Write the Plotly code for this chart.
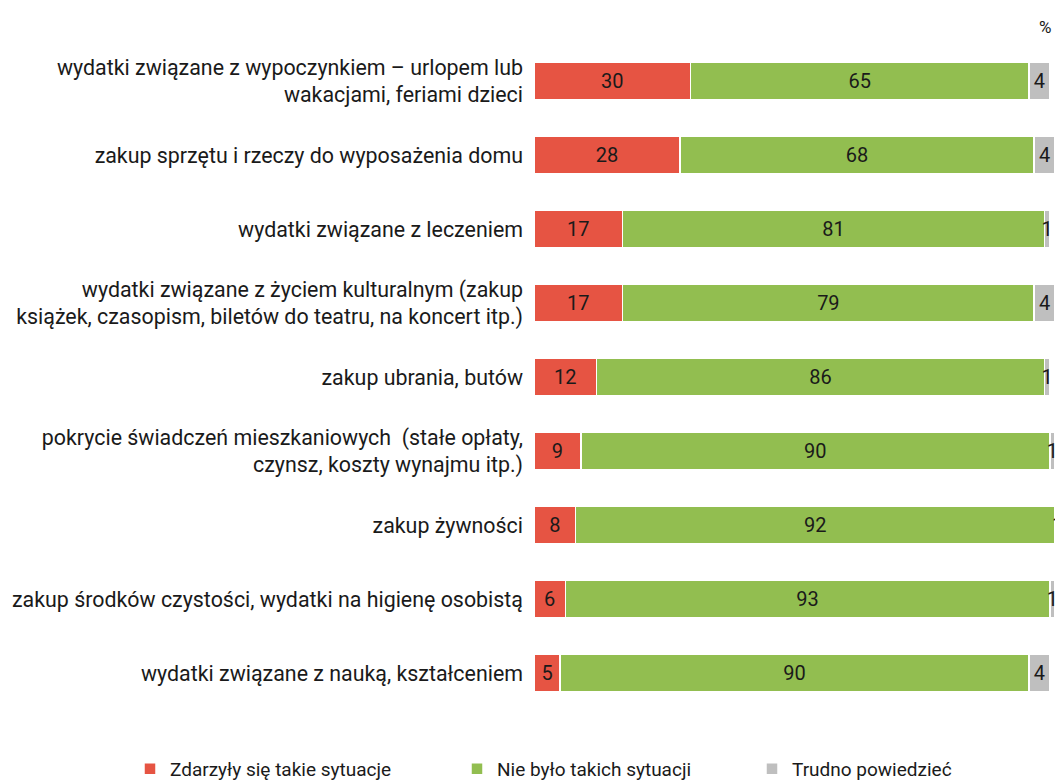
import plotly.graph_objects as go

categories = [
    "wydatki związane z wypoczynkiem – urlopem lub<br>wakacjami, feriami dzieci",
    "zakup sprzętu i rzeczy do wyposażenia domu",
    "wydatki związane z leczeniem",
    "wydatki związane z życiem kulturalnym (zakup<br>książek, czasopism, biletów do teatru, na koncert itp.)",
    "zakup ubrania, butów",
    "pokrycie świadczeń mieszkaniowych  (stałe opłaty,<br>czynsz, koszty wynajmu itp.)",
    "zakup żywności",
    "zakup środków czystości, wydatki na higienę osobistą",
    "wydatki związane z nauką, kształceniem",
]
happened = [30, 28, 17, 17, 12, 9, 8, 6, 5]
not_happened = [65, 68, 81, 79, 86, 90, 92, 93, 90]
hard_to_say = [4, 4, 1, 4, 1, 1, 1, 1, 4]

series_names = ["Zdarzyły się takie sytuacje", "Nie było takich sytuacji", "Trudno powiedzieć"]
series_values = [happened, not_happened, hard_to_say]
colors = ["#E65443", "#92BE50", "#BFBFBF"]
legend_ids = ["legend", "legend2", "legend3"]

FONT = "Roboto"
L, R, T, B = 534, 0, 44, 72
W, H = 1055, 782
PW = W - L - R
PH = H - T - B

fig = go.Figure()
for name, vals, col, lg in zip(series_names, series_values, colors, legend_ids):
    fig.add_trace(go.Bar(
        y=categories, x=vals, name=name, orientation="h",
        marker=dict(color=col, line=dict(color="white", width=1.5)),
        text=[str(v) for v in vals], textposition="inside",
        insidetextanchor="middle", constraintext="none",
        textfont=dict(family=FONT, size=20, color="#1a1a1a"),
        width=0.52, legend=lg, showlegend=True,
    ))

def legend_at(px):
    return dict(orientation="h", xref="container", yref="container",
                x=px / W, xanchor="left",
                y=(H - 769) / H, yanchor="middle",
                font=dict(size=19, family=FONT, color="#1a1a1a"),
                itemwidth=30, bgcolor="rgba(0,0,0,0)", visible=True)

fig.update_layout(
    barmode="stack",
    showlegend=True,
    width=W, height=H,
    margin=dict(l=L, r=R, t=T, b=B, autoexpand=False),
    plot_bgcolor="white", paper_bgcolor="white",
    font=dict(family=FONT, size=21, color="#1a1a1a"),
    xaxis=dict(range=[0, 100], visible=False, fixedrange=True),
    yaxis=dict(autorange="reversed", showgrid=False, ticks="", showline=False,
               ticklabelstandoff=10, tickfont=dict(size=21.4, family=FONT)),
    legend=legend_at(130),
    legend2=legend_at(457),
    legend3=legend_at(752),
    annotations=[dict(text="%", x=1.0, xref="paper", xanchor="right", xshift=-2,
                      y=1 + (T - 27) / PH, yref="paper", yanchor="middle",
                      showarrow=False, font=dict(size=17, family=FONT))],
)
fig.write_html("out.html", config={"displayModeBar": False},
               post_script="document.body.style.margin='0';document.body.style.overflow='hidden';")
